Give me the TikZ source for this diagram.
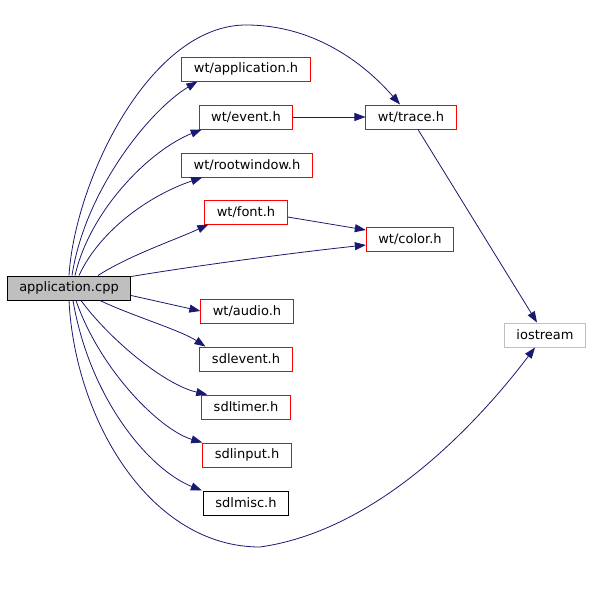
\documentclass[tikz,border=0pt]{standalone}
\usepackage{fontspec}
\setmainfont{DejaVu Sans}
\usetikzlibrary{arrows.meta}
\definecolor{edgeblue}{HTML}{191970}
\definecolor{boxgray}{HTML}{BFBFBF}
\definecolor{boxred}{HTML}{FF0000}
\tikzset{
  file/.style={rectangle, line width=1pt, minimum height=24pt, inner xsep=12pt, inner ysep=0pt,
    text=black, font=\fontsize{13}{15}\selectfont},
  redfile/.style={file, draw=boxred},
  blackfile/.style={file, draw=black},
  dep/.style={draw=edgeblue, line width=0.8pt, -{Triangle[length=11pt,width=8pt,fill=edgeblue]}}
}
\begin{document}
\begin{tikzpicture}[x=1pt, y=1pt]
  \useasboundingbox (0,0) rectangle (592,-613);
  % 文件节点
  \node[blackfile, fill=boxgray] (app) at (69,-288) {application.cpp};
  \node[redfile] (appl) at (246,-69) {wt/application.h};
  \node[redfile] (event) at (246,-117) {wt/event.h};
  \node[redfile] (trace) at (411,-117) {wt/trace.h};
  \node[redfile] (root) at (247,-165) {wt/rootwindow.h};
  \node[redfile] (font) at (246,-212) {wt/font.h};
  \node[redfile] (color) at (410,-239) {wt/color.h};
  \node[file, draw=boxgray] (ios) at (545,-335) {iostream};
  \node[redfile] (audio) at (247,-311) {wt/audio.h};
  \node[redfile] (sdlev) at (246,-359) {sdlevent.h};
  \node[redfile] (sdltim) at (246,-407) {sdltimer.h};
  \node[redfile] (sdlin) at (247,-455) {sdlinput.h};
  \node[blackfile] (sdlmisc) at (246,-503) {sdlmisc.h};
  % 向上的依赖
  \draw[dep] (app.north) .. controls (75,-180) and (150,-25) .. (246,-25)
    .. controls (320,-25) and (370,-70) .. ([xshift=-11pt]trace.north);
  \draw[dep] ([xshift=3pt]app.north) .. controls (85,-190) and (150,-110) .. ([xshift=16pt]appl.south west);
  \draw[dep] ([xshift=6pt]app.north) .. controls (90,-210) and (150,-150) .. ([xshift=3pt]event.south west);
  \draw[dep] ([xshift=10pt]app.north) .. controls (100,-230) and (150,-195) .. ([xshift=21pt]root.south west);
  \draw[dep] ([xshift=29pt]app.north) .. controls (130,-255) and (175,-240) .. ([xshift=4pt]font.south west);
  \draw[dep] ([yshift=-1pt]app.north east) .. controls (200,-265) and (300,-252) .. ([yshift=-6pt]color.west);
  \draw[dep] (event) -- (trace);
  \draw[dep] ([yshift=-5pt]font.east) -- ([yshift=9pt]color.west);
  \draw[dep] ([xshift=7pt]trace.south) -- ([xshift=-8pt]ios.north);
  % 向下的依赖
  \draw[dep] ([yshift=5pt]app.south east) -- (audio.west);
  \draw[dep] ([xshift=31pt]app.south) .. controls (130,-315) and (180,-330) .. ([xshift=6pt]sdlev.north west);
  \draw[dep] ([xshift=12pt]app.south) .. controls (110,-340) and (165,-385) .. ([xshift=6pt]sdltim.north west);
  \draw[dep] ([xshift=7pt]app.south) .. controls (100,-370) and (160,-430) .. (sdlin.north west);
  \draw[dep] ([xshift=4pt]app.south) .. controls (90,-400) and (150,-470) .. ([xshift=-1pt]sdlmisc.north west);
  \draw[dep] (app.south) .. controls (75,-420) and (150,-547) .. (260,-547)
    .. controls (380,-530) and (480,-420) .. ([xshift=-10pt]ios.south);
\end{tikzpicture}
\end{document}
